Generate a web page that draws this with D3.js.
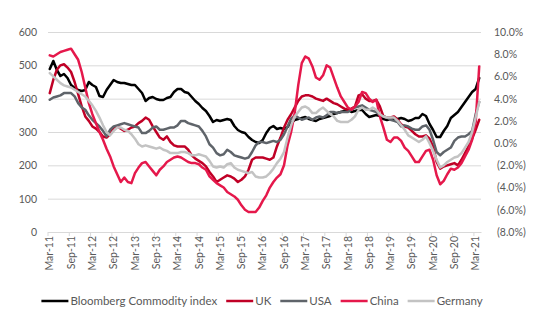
<!DOCTYPE html>
<html>
<head>
<meta charset="utf-8">
<script src="https://cdnjs.cloudflare.com/ajax/libs/d3/7.8.5/d3.min.js"></script>
<style>
  body { margin: 0; background: #fff; }
  svg text { font-family: Lato, "Open Sans", sans-serif; fill: #595959; }
</style>
</head>
<body>
<div id="chart"></div>
<script>
// Chart size and plot box
const width = 550;
const height = 330;
const plot = {left: 48, right: 481, top: 32, bottom: 232};

// Monthly categories, Mar-11 .. Apr-21
const months = d3.timeMonth.range(new Date(2011, 2, 1), new Date(2021, 4, 1));
const leftTicks = [0, 100, 200, 300, 400, 500, 600];
const rightTicks = [-8, -6, -4, -2, 0, 2, 4, 6, 8, 10];

// Bloomberg Commodity index (left axis)
const bloomberg = [489,513,486,468,474,462,441,432,426,423,
  426,450,441,435,408,405,426,441,456,450,
  447,447,444,441,441,429,417,393,402,405,
  399,396,396,402,405,420,429,429,420,417,
  405,393,384,372,363,348,330,336,333,336,
  339,336,318,306,300,297,285,276,270,267,
  276,297,312,318,309,312,309,315,327,336,
  339,342,345,339,336,333,339,342,345,348,
  354,357,360,363,366,360,363,366,366,354,
  345,348,351,348,339,336,339,339,339,342,
  339,333,336,342,342,354,348,324,306,285,
  285,303,318,342,351,360,375,390,405,420,
  429,462];

// Country series in % (right axis)
const uk = [4.5,5.7,6.6,7.0,7.1,6.8,6.4,5.5,4.4,3.3,
  2.4,2.0,1.5,1.3,1.0,0.6,0.5,0.8,1.4,1.5,
  1.3,1.1,1.2,1.4,1.5,1.8,2.0,2.3,2.1,1.5,
  1.0,0.5,0.3,0.6,0.1,-0.2,-0.3,-0.3,-0.3,-0.6,
  -1.1,-1.4,-1.6,-1.8,-2.1,-2.6,-3.0,-3.5,-3.3,-3.1,
  -2.9,-3.0,-3.2,-3.5,-3.3,-3.0,-2.4,-1.5,-1.3,-1.3,
  -1.3,-1.4,-1.5,-1.3,-0.3,0.5,1.4,2.1,2.6,3.2,
  3.8,4.2,4.3,4.3,4.2,4.0,3.9,3.8,4.0,3.8,
  3.6,3.5,3.3,3.1,3.0,3.1,3.3,4.3,4.4,4.0,
  3.8,3.8,3.9,3.3,2.4,2.3,2.3,2.4,2.1,1.7,
  1.5,1.4,1.1,0.8,0.6,0.6,0.7,0.4,-0.3,-1.7,
  -2.3,-2.1,-2.0,-1.9,-1.8,-2.0,-1.5,-0.9,-0.3,0.4,
  1.2,2.1];

const usa = [3.9,4.1,4.2,4.3,4.5,4.5,4.5,4.2,3.6,3.2,
  3.0,2.5,2.1,1.8,1.5,1.1,0.6,1.2,1.5,1.6,
  1.7,1.8,1.7,1.6,1.5,1.4,0.9,0.9,1.1,1.4,
  1.5,1.2,1.2,1.3,1.4,1.4,1.6,2.0,2.0,1.8,
  1.7,1.6,1.5,1.1,0.6,-0.1,-0.4,-0.9,-1.1,-1.0,
  -0.6,-0.8,-1.1,-1.2,-1.3,-1.4,-1.3,-0.8,-0.2,0.1,
  0.1,0.0,0.1,0.2,0.1,0.3,0.8,1.5,2.2,2.5,
  2.3,2.1,2.2,2.3,2.1,2.3,2.4,2.3,2.5,2.8,
  2.8,2.7,2.8,2.8,2.8,3.0,3.2,3.3,3.4,3.2,
  3.0,2.9,2.8,2.5,2.4,2.3,2.1,2.0,1.9,1.5,
  1.6,1.5,1.3,1.2,1.2,1.5,1.6,1.2,0.3,-0.8,
  -1.1,-0.8,-0.6,-0.4,0.2,0.5,0.6,0.6,0.8,1.1,
  2.6,3.7];

const china = [7.9,7.8,8.0,8.2,8.3,8.4,8.5,8.0,7.5,6.4,
  5.0,3.6,2.6,1.8,1.0,0.3,-0.5,-1.2,-2.1,-2.8,
  -3.5,-3.1,-3.5,-3.6,-2.7,-2.2,-1.8,-1.7,-2.1,-2.5,
  -2.9,-2.4,-2.1,-1.7,-1.5,-1.3,-1.2,-1.3,-1.5,-1.7,
  -1.8,-1.8,-1.9,-2.2,-2.4,-3.0,-3.3,-3.6,-3.8,-4.0,
  -4.4,-4.6,-4.8,-5.1,-5.6,-6.0,-6.2,-6.2,-6.2,-5.8,
  -5.2,-4.7,-4.0,-3.5,-3.1,-2.8,-2.0,-0.2,1.0,2.7,
  5.2,7.2,7.8,7.6,6.9,5.9,5.7,6.1,7.0,6.8,
  5.9,5.0,4.2,3.7,3.2,3.0,3.3,3.7,4.6,4.5,
  4.0,3.7,3.9,2.4,1.4,0.3,0.1,0.5,0.5,0.2,
  -0.4,-0.7,-1.2,-1.7,-1.7,-1.2,-0.7,-0.6,-1.5,-2.9,
  -3.7,-3.4,-2.8,-2.3,-2.4,-2.2,-1.8,-1.2,-0.6,0.3,
  1.9,6.9];

const germany = [6.3,6.0,5.7,5.4,5.2,5.1,5.0,4.8,4.6,4.4,
  4.2,3.8,3.4,2.9,2.3,1.6,1.0,0.7,1.1,1.4,
  1.4,1.2,1.1,0.8,0.4,-0.1,-0.3,-0.2,-0.3,-0.4,
  -0.5,-0.4,-0.6,-0.7,-0.9,-0.9,-0.9,-0.8,-0.8,-0.9,
  -1.1,-1.1,-1.0,-1.1,-1.2,-1.6,-2.1,-2.2,-2.1,-2.2,
  -1.9,-1.8,-2.2,-2.4,-2.5,-2.6,-2.7,-2.6,-3.0,-3.1,
  -3.1,-3.0,-2.7,-2.3,-1.8,-1.4,-0.8,0.5,1.6,2.4,
  2.8,3.2,3.3,3.1,2.7,2.7,3.0,3.2,2.9,2.6,
  2.4,2.0,1.9,1.9,1.9,2.1,2.4,3.0,3.2,3.0,
  3.0,3.2,3.0,2.6,2.4,2.3,2.3,2.3,2.0,1.6,
  1.2,0.7,0.5,0.3,0.1,0.3,0.6,0.0,-0.7,-1.5,
  -2.2,-2.0,-1.7,-1.5,-1.3,-1.2,-0.9,-0.4,0.1,1.0,
  2.3,3.7];

// Series: name, values, axis, colour (drawn in this order)
const series = [
  {name: "Bloomberg Commodity index", values: bloomberg, axis: "left", color: "#000000"},
  {name: "UK", values: uk, axis: "right", color: "#c00026"},
  {name: "USA", values: usa, axis: "right", color: "#5f646a"},
  {name: "China", values: china, axis: "right", color: "#e5184b"},
  {name: "Germany", values: germany, axis: "right", color: "#c3c3c3"}
];

const svg = d3.select("#chart")
    .append("svg")
    .attr("width", width)
    .attr("height", height);

svg.append("rect").attr("width", width).attr("height", height).attr("fill", "#fff");

// Scales
const x = d3.scaleBand()
    .domain(d3.range(months.length))
    .range([plot.left, plot.right]);
const xc = i => x(i) + x.bandwidth() / 2;

const yLeft = d3.scaleLinear().domain([0, 600]).range([plot.bottom, plot.top]);
const yRight = d3.scaleLinear().domain([-8, 10]).range([plot.bottom, plot.top]);

// Gridlines from the left axis
svg.append("g")
    .attr("transform", `translate(${plot.left},0)`)
    .call(d3.axisLeft(yLeft).tickValues(leftTicks).tickSize(-(plot.right - plot.left)).tickFormat(""))
    .call(g => g.select(".domain").remove())
    .call(g => g.selectAll("line").attr("stroke", "#d9d9d9").attr("stroke-width", 1));

// Left axis labels
svg.append("g")
    .attr("transform", `translate(${plot.left},0)`)
    .call(d3.axisLeft(yLeft).tickValues(leftTicks).tickSize(0).tickPadding(11))
    .call(g => g.select(".domain").remove())
    .call(g => g.selectAll("text").style("font-size", "10.5px").style("fill", "#595959"));

// Right axis labels, negatives in brackets
const pctFormat = d => d < 0 ? `(${Math.abs(d).toFixed(1)}%)` : `${d.toFixed(1)}%`;
svg.append("g")
    .attr("transform", `translate(${plot.right},0)`)
    .call(d3.axisRight(yRight).tickValues(rightTicks).tickSize(0).tickPadding(13).tickFormat(pctFormat))
    .call(g => g.select(".domain").remove())
    .call(g => g.selectAll("text")
        .style("font-size", "10.5px").style("fill", "#595959")
        .attr("dx", d => d < 0 ? 3 : 0));

// Bottom category axis, label every six months
const labelIdx = d3.range(0, months.length, 6);
const fmt = d3.timeFormat("%b-%y");
svg.append("g")
    .attr("transform", `translate(0,${plot.bottom})`)
    .call(d3.axisBottom(x).tickValues(labelIdx).tickSize(0).tickFormat(i => fmt(months[i])))
    .call(g => g.select(".domain").attr("stroke", "#d9d9d9"))
    .call(g => g.selectAll("text")
        .style("font-size", "10.5px").style("fill", "#595959")
        .style("text-anchor", "end")
        .attr("transform", "rotate(-90)")
        .attr("x", -4).attr("y", 0).attr("dy", "0.35em"));

// small tick marks between categories
svg.append("g").selectAll("line")
    .data(labelIdx)
    .join("line")
    .attr("x1", i => x(i)).attr("x2", i => x(i))
    .attr("y1", plot.bottom).attr("y2", plot.bottom + 4)
    .attr("stroke", "#d9d9d9");

// Lines
const lineGroup = svg.append("g").attr("fill", "none");
series.forEach(s => {
    const yScale = s.axis === "left" ? yLeft : yRight;
    const line = d3.line()
        .x((d, i) => xc(i))
        .y(d => yScale(d));
    lineGroup.append("path")
        .datum(s.values)
        .attr("d", line)
        .attr("stroke", s.color)
        .attr("stroke-width", 2.5)
        .attr("stroke-linejoin", "round")
        .attr("stroke-linecap", "round");
});

// Legend
const legend = svg.append("g");
let lx = 0;
series.forEach(s => {
    const item = legend.append("g").attr("transform", `translate(${lx},0)`);
    item.append("line")
        .attr("x1", 0).attr("x2", 27)
        .attr("y1", 0).attr("y2", 0)
        .attr("stroke", s.color)
        .attr("stroke-width", 2.5);
    const t = item.append("text")
        .attr("x", 29).attr("y", 0).attr("dy", "0.35em")
        .style("font-size", "11.5px")
        .text(s.name);
    lx += 29 + t.node().getComputedTextLength() + 9;
});
const legendWidth = lx - 9;
legend.attr("transform", `translate(${262 - legendWidth / 2},301)`);
</script>
</body>
</html>
